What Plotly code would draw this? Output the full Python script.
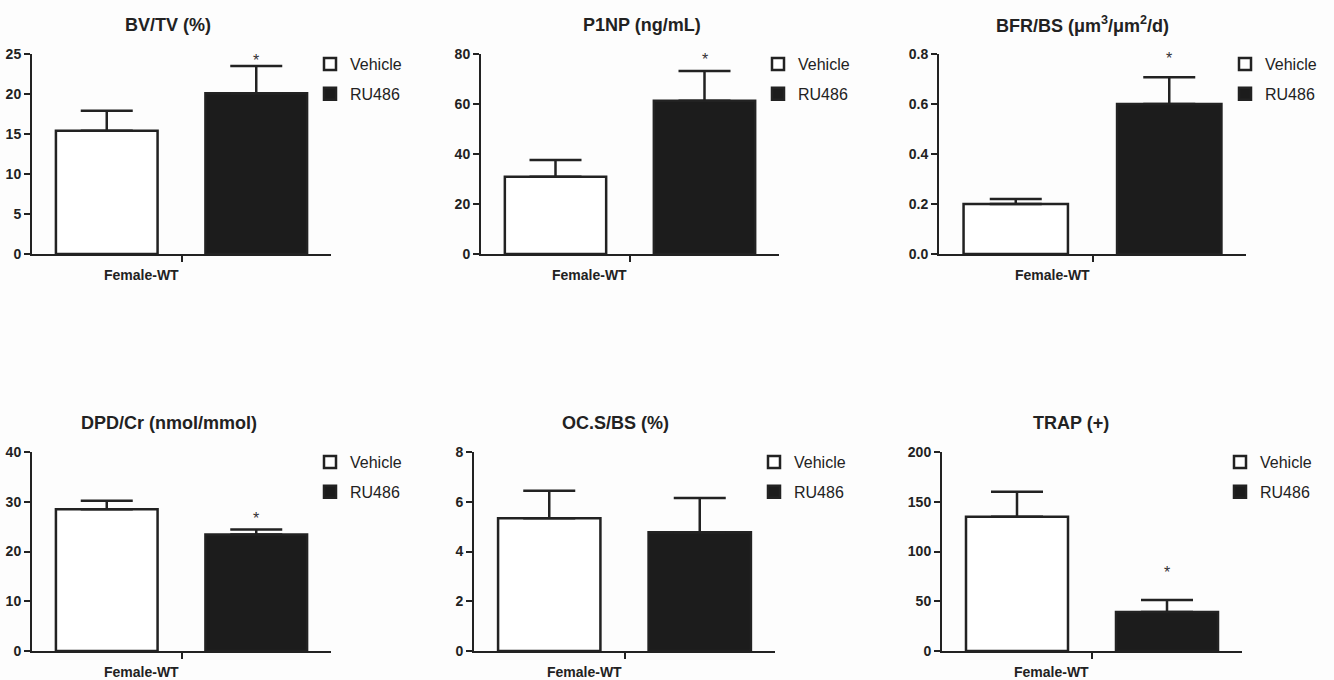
import plotly.graph_objects as go

# ---------------- data ----------------
titles = ["BV/TV (%)", "P1NP (ng/mL)", "BFR/BS (\u03bcm<sup>3</sup>/\u03bcm<sup>2</sup>/d)",
          "DPD/Cr (nmol/mmol)", "OC.S/BS (%)", "TRAP (+)"]
groups = ["Vehicle", "RU486"]
category_label = "Female-WT"
vehicle_mean = [15.4, 30.9, 0.20, 28.5, 5.34, 135.0]
vehicle_sem = [2.5, 6.7, 0.02, 1.7, 1.10, 25.0]
ru486_mean = [20.1, 61.3, 0.60, 23.4, 4.77, 39.3]
ru486_sem = [3.4, 11.9, 0.107, 1.0, 1.38, 12.0]
y_max = [25, 80, 0.8, 40, 8, 200]
y_dtick = [5, 20, 0.2, 10, 2, 50]
y_format = ["d", "d", ".1f", "d", "d", "d"]
star_y = [24.2, 77.6, 0.78, 26.7, None, 78.4]

# ---------------- layout helpers (pixels -> paper) ----------------
W, H = 1334, 680
def px(p):
    return p / W
def py(p):
    return 1 - p / H

x_domains_px = [(32, 331), (481, 779), (939, 1246), (32, 331), (474, 775), (942, 1242)]
y_domains_px = [(54, 254)] * 3 + [(452, 651)] * 3
title_pos = [0.455, 0.54, 0.466, 0.457, 0.47, 0.43]
legend_left_px = [310, 758, 1225, 310, 754, 1220]

FONT = "Liberation Sans, Arial, Helvetica, sans-serif"
INK = "#222222"
fig = go.Figure()
layout = dict(
    width=W, height=H, autosize=False,
    paper_bgcolor="#fdfdfd", plot_bgcolor="rgba(0,0,0,0)",
    margin=dict(l=0, r=0, t=0, b=0, pad=0, autoexpand=False),
    font=dict(family=FONT, color=INK),
    barmode="group",
    annotations=[],
)

for i in range(6):
    n = "" if i == 0 else str(i + 1)
    xa, ya = "x" + n, "y" + n
    lg = "legend" + n
    fig.add_trace(go.Bar(
        x=[0], y=[vehicle_mean[i]], name=groups[0], width=0.68,
        marker=dict(color="white", line=dict(color=INK, width=2.5)),
        error_y=dict(type="data", array=[vehicle_sem[i]], arrayminus=[0], symmetric=False,
                     color=INK, thickness=2.5, width=26),
        xaxis=xa, yaxis=ya, legend=lg, legendgroup="v" + n, showlegend=True,
        hoverinfo="skip",
    ))
    fig.add_trace(go.Bar(
        x=[1], y=[ru486_mean[i]], name=groups[1], width=0.68,
        marker=dict(color="#1c1c1c", line=dict(color=INK, width=2.5)),
        error_y=dict(type="data", array=[ru486_sem[i]], arrayminus=[0], symmetric=False,
                     color=INK, thickness=2.5, width=26),
        xaxis=xa, yaxis=ya, legend=lg, legendgroup="r" + n, showlegend=True,
        hoverinfo="skip",
    ))
    x0, x1 = x_domains_px[i]
    y0, y1 = y_domains_px[i]
    layout["xaxis" + n] = dict(
        domain=[px(x0), px(x1)], anchor=ya, range=[-0.5, 1.5], automargin=False,
        showline=True, linecolor=INK, linewidth=2, showgrid=False, zeroline=False,
        tickvals=[0.5], showticklabels=False, ticks="outside", ticklen=6, tickwidth=2,
        tickcolor=INK, fixedrange=True,
    )
    layout["yaxis" + n] = dict(
        domain=[py(y1), py(y0)], anchor=xa, range=[0, y_max[i]], automargin=False,
        showline=True, linecolor=INK, linewidth=2, showgrid=False, zeroline=False,
        dtick=y_dtick[i], tick0=0, tickformat=y_format[i],
        ticks="outside", ticklen=6, tickwidth=2, tickcolor=INK,
        tickfont=dict(size=14, color=INK, family=FONT, weight="bold"),
        fixedrange=True,
    )
    layout[lg] = dict(
        x=px(legend_left_px[i]), xanchor="left",
        y=py(y0 - 7), yanchor="top",
        bgcolor="rgba(0,0,0,0)", font=dict(size=16, color=INK, family=FONT),
        tracegroupgap=6, itemclick=False, itemdoubleclick=False,
    )
    # panel title
    layout["annotations"].append(dict(
        text="<b>" + titles[i] + "</b>", xref=xa + " domain", yref="paper",
        x=title_pos[i], y=py(y0 - 29), xanchor="center", yanchor="middle",
        showarrow=False, font=dict(size=18, color=INK, family=FONT),
    ))
    # category label
    layout["annotations"].append(dict(
        text="<b>" + category_label + "</b>", xref=xa, yref="paper",
        x=0.5, y=py(y1 + 21), xanchor="right", yanchor="middle", xshift=-1,
        showarrow=False, font=dict(size=14, color=INK, family=FONT),
    ))
    # significance star
    if star_y[i] is not None:
        layout["annotations"].append(dict(
            text="*", xref=xa, yref=ya, x=1, y=star_y[i],
            xanchor="center", yanchor="middle", showarrow=False,
            font=dict(size=16, color="#333333", family=FONT),
        ))

fig.update_layout(**layout)
fig.write_html("out.html", config={"displayModeBar": False},
               post_script="document.body.style.margin='0';document.body.style.overflow='hidden';")
